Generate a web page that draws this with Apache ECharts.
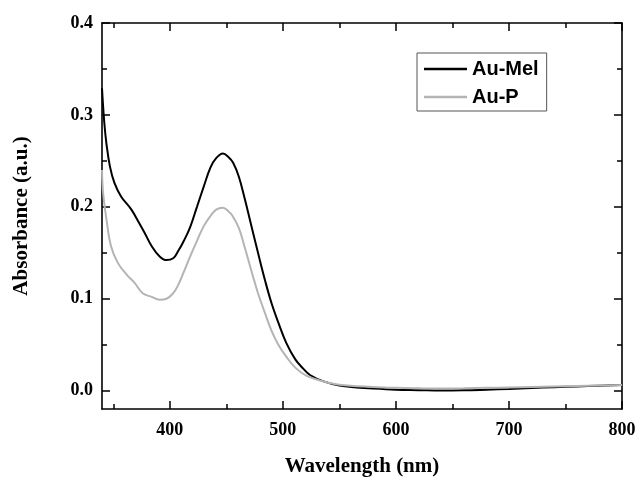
<!DOCTYPE html>
<html>
<head>
<meta charset="utf-8">
<script src="https://cdn.jsdelivr.net/npm/echarts@6/dist/echarts.min.js"></script>
<style>html,body{margin:0;padding:0;background:#fff;}#c{width:639px;height:477px;}</style>
</head>
<body>
<div id="c"></div>
<script>
const xTickLabels = [400, 500, 600, 700, 800];
const xMinorTicks = [350, 450, 550, 650, 750];
const yTickLabels = [0, 0.1, 0.2, 0.3, 0.4];
const yMinorTicks = [0.05, 0.15, 0.25, 0.35];

const melWavelength = [340,342,344,347,351,357,366,373,378,384,391,397,403,407,412,418,424,430,436,441,447,452,456,461,466,472,478,484,490,496,503,511,518,524,536,550,565,580,600,620,640,660,680,700,720,740,760,780,800];
const melAbsorbance = [0.329,0.292,0.268,0.244,0.226,0.211,0.197,0.182,0.171,0.157,0.146,0.142,0.144,0.151,0.162,0.178,0.200,0.222,0.243,0.253,0.258,0.254,0.248,0.233,0.210,0.180,0.150,0.121,0.095,0.074,0.052,0.034,0.024,0.017,0.010,0.0055,0.0035,0.0022,0.001,0.0005,0.0,0.0003,0.001,0.0018,0.0028,0.0038,0.0046,0.0054,0.006];

const pWavelength = [340,341,344,348,354,362,369,376,384,391,397,403,407,412,418,424,430,436,441,447,452,455,461,466,472,478,484,490,496,503,511,521,536,550,580,600,620,640,660,680,700,720,740,760,780,800];
const pAbsorbance = [0.240,0.215,0.186,0.157,0.139,0.126,0.117,0.106,0.102,0.099,0.100,0.106,0.114,0.128,0.146,0.163,0.179,0.190,0.197,0.199,0.195,0.191,0.177,0.157,0.131,0.106,0.085,0.065,0.050,0.037,0.025,0.016,0.010,0.0065,0.004,0.003,0.0025,0.0022,0.0025,0.003,0.0035,0.004,0.0045,0.005,0.0055,0.006];

const serif = 'Liberation Serif';
const pair = (xs, ys) => xs.map((x, i) => [x, ys[i]]);

function xAx(pos, major, showLabel, showLine, name) {
  return {
    type: 'value', position: pos, min: 340, max: 800,
    name: name || '', nameLocation: 'middle', nameGap: 47,
    nameTextStyle: {fontFamily: serif, fontWeight: 'bold', fontSize: 21, color: '#000'},
    axisLine: {show: showLine, onZero: false, lineStyle: {color: '#000', width: 1.6}},
    axisTick: {show: true, inside: true, length: major ? 8 : 5, customValues: major ? xTickLabels : xMinorTicks, lineStyle: {color: '#000', width: 1.5}},
    axisLabel: {show: showLabel, customValues: xTickLabels, margin: 12, fontFamily: serif, fontWeight: 'bold', fontSize: 18, color: '#000'},
    splitLine: {show: false}
  };
}
function yAx(pos, major, showLabel, showLine, name) {
  return {
    type: 'value', position: pos, min: -0.02, max: 0.4,
    name: name || '', nameLocation: 'middle', nameGap: 70, nameRotate: 90,
    nameTextStyle: {fontFamily: serif, fontWeight: 'bold', fontSize: 21, color: '#000'},
    axisLine: {show: showLine, onZero: false, lineStyle: {color: '#000', width: 1.6}},
    axisTick: {show: true, inside: true, length: major ? 8 : 5, customValues: major ? yTickLabels : yMinorTicks, lineStyle: {color: '#000', width: 1.5}},
    axisLabel: {show: showLabel, customValues: yTickLabels, margin: 9, fontFamily: serif, fontWeight: 'bold', fontSize: 18, color: '#000', formatter: v => Number(v).toFixed(1)},
    splitLine: {show: false}
  };
}

const chart = echarts.init(document.getElementById('c'), null, {renderer: 'canvas'});
chart.setOption({
  animation: false,
  backgroundColor: '#fff',
  grid: {left: 102, right: 17, top: 23, bottom: 68, containLabel: false, outerBoundsMode: 'none'},
  xAxis: [
    xAx('bottom', true, true, true, 'Wavelength (nm)'),
    xAx('bottom', false, false, false),
    xAx('top', true, false, true),
    xAx('top', false, false, false)
  ],
  yAxis: [
    yAx('left', true, true, true, 'Absorbance (a.u.)'),
    yAx('left', false, false, false),
    yAx('right', true, false, true),
    yAx('right', false, false, false)
  ],
  legend: {
    orient: 'vertical', left: 417, top: 53,
    padding: [6, 8, 4, 7], itemGap: 8, itemWidth: 43, itemHeight: 2.5,
    borderColor: '#555', borderWidth: 1, backgroundColor: '#fff',
    icon: 'rect',
    textStyle: {fontFamily: 'Liberation Sans', fontWeight: 'bold', fontSize: 20, color: '#000'},
    data: ['Au-Mel', 'Au-P']
  },
  series: [
    {name: 'Au-Mel', type: 'line', xAxisIndex: 0, yAxisIndex: 0, showSymbol: false, smooth: 0.4, data: pair(melWavelength, melAbsorbance), lineStyle: {color: '#000', width: 2}, itemStyle: {color: '#000'}},
    {name: 'Au-P', type: 'line', xAxisIndex: 0, yAxisIndex: 0, showSymbol: false, smooth: 0.4, data: pair(pWavelength, pAbsorbance), lineStyle: {color: '#b4b4b4', width: 2}, itemStyle: {color: '#b4b4b4'}}
  ]
});
</script>
</body>
</html>
